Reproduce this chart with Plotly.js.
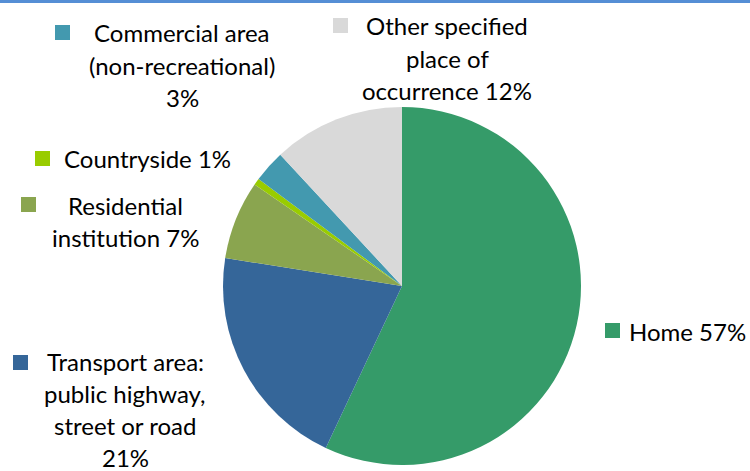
<!DOCTYPE html>
<html>
<head>
<meta charset="utf-8">
<script src="https://cdn.plot.ly/plotly-3.0.1.min.js"></script>
<style>html,body{margin:0;padding:0;background:#fff;} #chart{width:750px;height:471px;}</style>
</head>
<body>
<div id="chart"></div>
<script>
// ---- data ----
const categories = ['Home', 'Transport area: public highway, street or road', 'Residential institution', 'Countryside', 'Commercial area (non-recreational)', 'Other specified place of occurrence'];
const values = [57.0, 20.5, 7.1, 0.6, 2.9, 11.9];
const labelLines = [
  ['Home'],
  ['Transport area:', 'public highway,', 'street or road'],
  ['Residential', 'institution'],
  ['Countryside'],
  ['Commercial area', '(non-recreational)'],
  ['Other specified', 'place of', 'occurrence']
];
const colors = ['#359B69', '#356699', '#8AA54F', '#99CC00', '#4399AF', '#D9D9D9'];

// ---- label placement (pixels) ----
const W = 750, H = 471;
const labelPlace = [
  {sq: [605, 323], anchor: 'right', x: 747, y0: 331, pctInline: true},
  {sq: [13, 355], anchor: 'center', x: 125, y0: 361, pctInline: false, lh: 32},
  {sq: [21, 197], anchor: 'center', x: 125, y0: 205, pctInline: true},
  {sq: [35, 151], anchor: 'left', x: 63, y0: 159, pctInline: true},
  {sq: [55, 25], anchor: 'center', x: 182, y0: 33, pctInline: false},
  {sq: [333, 18], anchor: 'center', x: 447, y0: 26, pctInline: true}
];
const lineH = 32.5;
const fontFam = 'Lato, "Open Sans", sans-serif';
const fontSize = 24;

const total = values.reduce((a, b) => a + b, 0);
const annotations = [];
const shapes = [];
values.forEach((v, i) => {
  const pct = Math.round(v / total * 100) + '%';
  const lines = labelLines[i].slice();
  if (labelPlace[i].pctInline) lines[lines.length - 1] += ' ' + pct; else lines.push(pct);
  const p = labelPlace[i];
  const lh = p.lh || lineH;
  lines.forEach((t, k) => {
    annotations.push({
      xref: 'paper', yref: 'paper',
      x: p.x / W,
      y: 1 - (p.y0 + k * lh) / H,
      xanchor: p.anchor, yanchor: 'middle',
      text: t, showarrow: false, borderpad: 0,
      font: {family: fontFam, size: fontSize, color: '#000'}
    });
  });
  shapes.push({
    type: 'rect', xref: 'paper', yref: 'paper',
    x0: p.sq[0] / W, x1: (p.sq[0] + 15) / W,
    y0: 1 - (p.sq[1] + 15) / H, y1: 1 - p.sq[1] / H,
    fillcolor: colors[i], line: {width: 0}
  });
});
shapes.push({type: 'rect', xref: 'paper', yref: 'paper', x0: 0, x1: 1, y0: 1 - 3 / H, y1: 1, fillcolor: '#558ED5', line: {width: 0}});

const cx = 402, cy = 286, r = 179;
const trace = {
  type: 'pie',
  labels: categories,
  values: values,
  sort: false,
  direction: 'clockwise',
  rotation: 0,
  textinfo: 'none',
  hoverinfo: 'label+percent',
  marker: {colors: colors, line: {width: 0}},
  domain: {x: [(cx - r) / W, (cx + r) / W], y: [(H - cy - r) / H, (H - cy + r) / H]}
};
const layout = {
  width: W, height: H,
  margin: {l: 0, r: 0, t: 0, b: 0},
  showlegend: false,
  paper_bgcolor: '#fff',
  annotations: annotations,
  shapes: shapes
};
Plotly.newPlot('chart', [trace], layout, {displayModeBar: false, staticPlot: true});
</script>
</body>
</html>
